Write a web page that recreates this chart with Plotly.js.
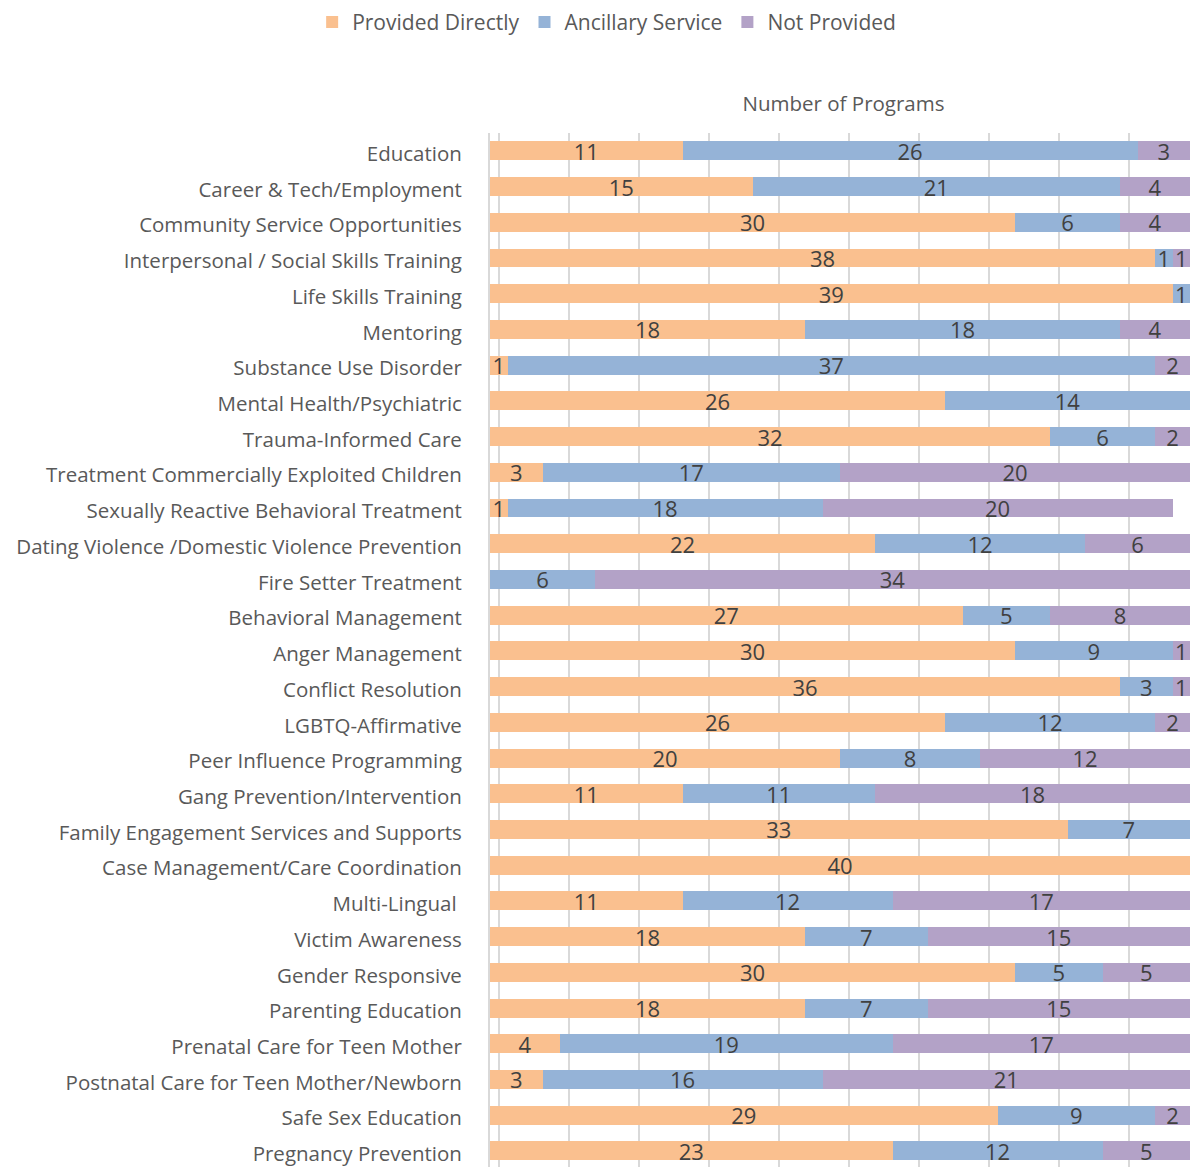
<!DOCTYPE html>
<html>
<head>
<meta charset="utf-8">
<script src="https://cdn.plot.ly/plotly-3.0.1.min.js"></script>
<style>
html,body{margin:0;padding:0;background:#fff;}
#chart{width:1197px;height:1167px;}
</style>
</head>
<body>
<div id="chart"></div>
<script>
var categories = [
  "Education",
  "Career & Tech/Employment",
  "Community Service Opportunities",
  "Interpersonal / Social Skills Training",
  "Life Skills Training",
  "Mentoring",
  "Substance Use Disorder",
  "Mental Health/Psychiatric",
  "Trauma-Informed Care",
  "Treatment Commercially Exploited Children",
  "Sexually Reactive Behavioral Treatment",
  "Dating Violence /Domestic Violence Prevention",
  "Fire Setter Treatment",
  "Behavioral Management",
  "Anger Management",
  "Conflict Resolution",
  "LGBTQ-Affirmative",
  "Peer Influence Programming",
  "Gang Prevention/Intervention",
  "Family Engagement Services and Supports",
  "Case Management/Care Coordination",
  "Multi-Lingual ",
  "Victim Awareness",
  "Gender Responsive",
  "Parenting Education",
  "Prenatal Care for Teen Mother",
  "Postnatal Care for Teen Mother/Newborn",
  "Safe Sex Education",
  "Pregnancy Prevention"
];
var providedDirectly = [11,15,30,38,39,18,1,26,32,3,1,22,0,27,30,36,26,20,11,33,40,11,18,30,18,4,3,29,23];
var ancillaryService = [26,21,6,1,1,18,37,14,6,17,18,12,6,5,9,3,12,8,11,7,0,12,7,5,7,19,16,9,12];
var notProvided      = [3,4,4,1,0,4,2,0,2,20,20,6,34,8,1,1,2,12,18,0,0,17,15,5,15,17,21,2,5];

var seriesNames = ["Provided Directly","Ancillary Service","Not Provided"];
var seriesColors = ["#FAC08F","#95B3D7","#B3A2C7"];
var seriesValues = [providedDirectly, ancillaryService, notProvided];

var traces = seriesValues.map(function(vals, i){
  return {
    type: 'bar',
    orientation: 'h',
    name: seriesNames[i],
    y: categories,
    x: vals,
    text: vals.map(function(v){ return v === 0 ? '' : String(v); }),
    textposition: 'inside',
    insidetextanchor: 'middle',
    textangle: 0,
    insidetextfont: {family: 'Open Sans, sans-serif', size: 22, color: '#404040'},
    marker: {color: seriesColors[i], line: {width: 0}},
    hoverinfo: 'x+y+name'
  };
});

// helper trace on an offset axis that carries the back-wall gridlines
traces.push({
  type: 'scatter', mode: 'markers', x: [], y: [], xaxis: 'x2', yaxis: 'y',
  showlegend: false, hoverinfo: 'skip'
});

var layout = {
  width: 1197,
  height: 1167,
  margin: {l: 490, r: 0, t: 133, b: 0},
  paper_bgcolor: '#ffffff',
  plot_bgcolor: 'rgba(0,0,0,0)',
  barmode: 'stack',
  bargap: 0.47,
  uniformtext: {mode: 'show', minsize: 22},
  font: {family: 'Open Sans, sans-serif', color: '#595959'},
  showlegend: true,
  legend: {
    orientation: 'h',
    x: 0.165, xanchor: 'center',
    y: 1.107, yanchor: 'middle',
    font: {family: 'Open Sans, sans-serif', size: 21, color: '#595959'},
    traceorder: 'normal',
    itemwidth: 30
  },
  xaxis: {
    range: [0, 40.4],
    side: 'top',
    showgrid: false,
    zeroline: false,
    showticklabels: false,
    ticks: '',
    showline: false,
    title: {text: 'Number of Programs', standoff: 14,
            font: {family: 'Open Sans, sans-serif', size: 20.5, color: '#595959'}}
  },
  xaxis2: {
    overlaying: 'x',
    anchor: 'y',
    side: 'bottom',
    range: [-0.514, 39.886],
    tick0: 0,
    dtick: 4,
    showgrid: true,
    gridcolor: '#D9D9D9',
    gridwidth: 2,
    zeroline: false,
    showticklabels: false,
    ticks: '',
    showline: false
  },
  yaxis: {
    type: 'category',
    categoryorder: 'array',
    categoryarray: categories,
    range: [28.45, -0.5],
    showgrid: false,
    zeroline: false,
    showline: true,
    linecolor: '#D9D9D9',
    linewidth: 2,
    ticks: 'outside',
    ticklen: 22,
    tickcolor: 'rgba(0,0,0,0)',
    ticklabelshift: -3,
    tickfont: {family: 'Open Sans, sans-serif', size: 20.5, color: '#595959'}
  }
};

Plotly.newPlot('chart', traces, layout, {displayModeBar: false, responsive: false});
</script>
</body>
</html>
